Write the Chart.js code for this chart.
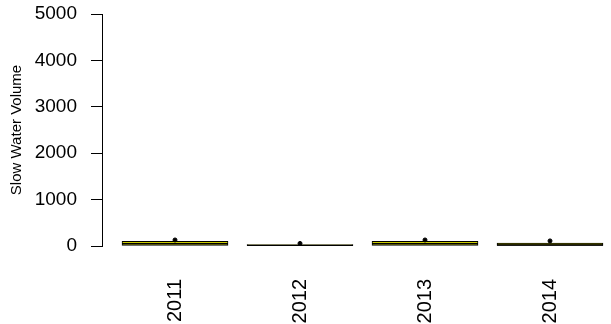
<!DOCTYPE html>
<html lang="en">
<head>
    <meta charset="UTF-8">
    <title>Slow Water Volume</title>
    <script src="https://cdn.jsdelivr.net/npm/chart.js"></script>
    <style>
        body {
            margin: 0;
            background-color: #ffffff;
        }
        #wrap {
            width: 611px;
            height: 324px;
            overflow: hidden;
        }
    </style>
</head>
<body>
    <div id="wrap">
        <canvas id="boxChart" width="611" height="324"></canvas>
    </div>
    <script>
        // values
        const years = ['2011', '2012', '2013', '2014'];
        const lowerQuartile = [0, 0, 0, 0];
        const median = [48, 12, 48, 22];
        const upperQuartile = [100, 30, 100, 65];
        const outlierTop = [130, 55, 130, 110];
        const yTicks = [0, 1000, 2000, 3000, 4000, 5000];

        const boxColor = '#cdcd00';
        const font = 'Liberation Sans, Arial, sans-serif';

        const xs = years.map((_, i) => i + 1);

        const ctx = document.getElementById('boxChart').getContext('2d');
        new Chart(ctx, {
            type: 'bar',
            data: {
                datasets: [
                    {
                        data: xs.map((x, i) => ({ x: x, y: [lowerQuartile[i], upperQuartile[i]] })),
                        backgroundColor: boxColor,
                        borderColor: '#000000',
                        borderWidth: 1,
                        borderSkipped: false,
                        barThickness: 106,
                        order: 3
                    },
                    {
                        type: 'scatter',
                        data: xs.map((x, i) => ({ x: x, y: median[i] })),
                        pointStyle: 'line',
                        radius: 53,
                        borderWidth: 1.5,
                        borderColor: '#000000',
                        order: 2
                    },
                    {
                        type: 'scatter',
                        data: xs.map((x, i) => ({ x: x, y: outlierTop[i] })),
                        pointStyle: 'circle',
                        radius: 2,
                        backgroundColor: '#000000',
                        borderColor: '#000000',
                        borderWidth: 1,
                        order: 1
                    }
                ]
            },
            options: {
                responsive: false,
                animation: false,
                events: [],
                layout: {
                    autoPadding: false,
                    padding: { top: 14, left: 0, right: 0, bottom: 0 }
                },
                plugins: {
                    legend: { display: false },
                    tooltip: { enabled: false }
                },
                scales: {
                    x: {
                        type: 'linear',
                        offset: false,
                        min: 0.416,
                        max: 4.488,
                        afterBuildTicks: (scale) => {
                            scale.ticks = xs.map(v => ({ value: v }));
                        },
                        afterFit: (scale) => {
                            scale.height = 78;
                            scale.paddingLeft = 0;
                            scale.paddingRight = 0;
                        },
                        grid: { display: false, offset: false },
                        border: { display: false },
                        ticks: {
                            minRotation: 90,
                            maxRotation: 90,
                            padding: 25,
                            color: '#000000',
                            font: { family: font, size: 20 },
                            callback: (v) => years[v - 1]
                        }
                    },
                    y: {
                        min: 0,
                        max: 5000,
                        afterBuildTicks: (scale) => {
                            scale.ticks = yTicks.map(v => ({ value: v }));
                        },
                        afterFit: (scale) => {
                            scale.width = 102;
                            scale.paddingTop = 0;
                            scale.paddingBottom = 0;
                        },
                        grid: {
                            drawOnChartArea: false,
                            tickLength: 11,
                            color: '#000000',
                            lineWidth: 1
                        },
                        border: { display: true, color: '#000000', width: 1 },
                        ticks: {
                            padding: 14,
                            color: '#000000',
                            font: { family: font, size: 19 },
                            callback: (v) => String(v)
                        },
                        title: {
                            display: true,
                            text: 'Slow Water Volume',
                            color: '#000000',
                            font: { family: font, size: 15 },
                            padding: { top: 8, bottom: 0 }
                        }
                    }
                }
            }
        });
    </script>
</body>
</html>
